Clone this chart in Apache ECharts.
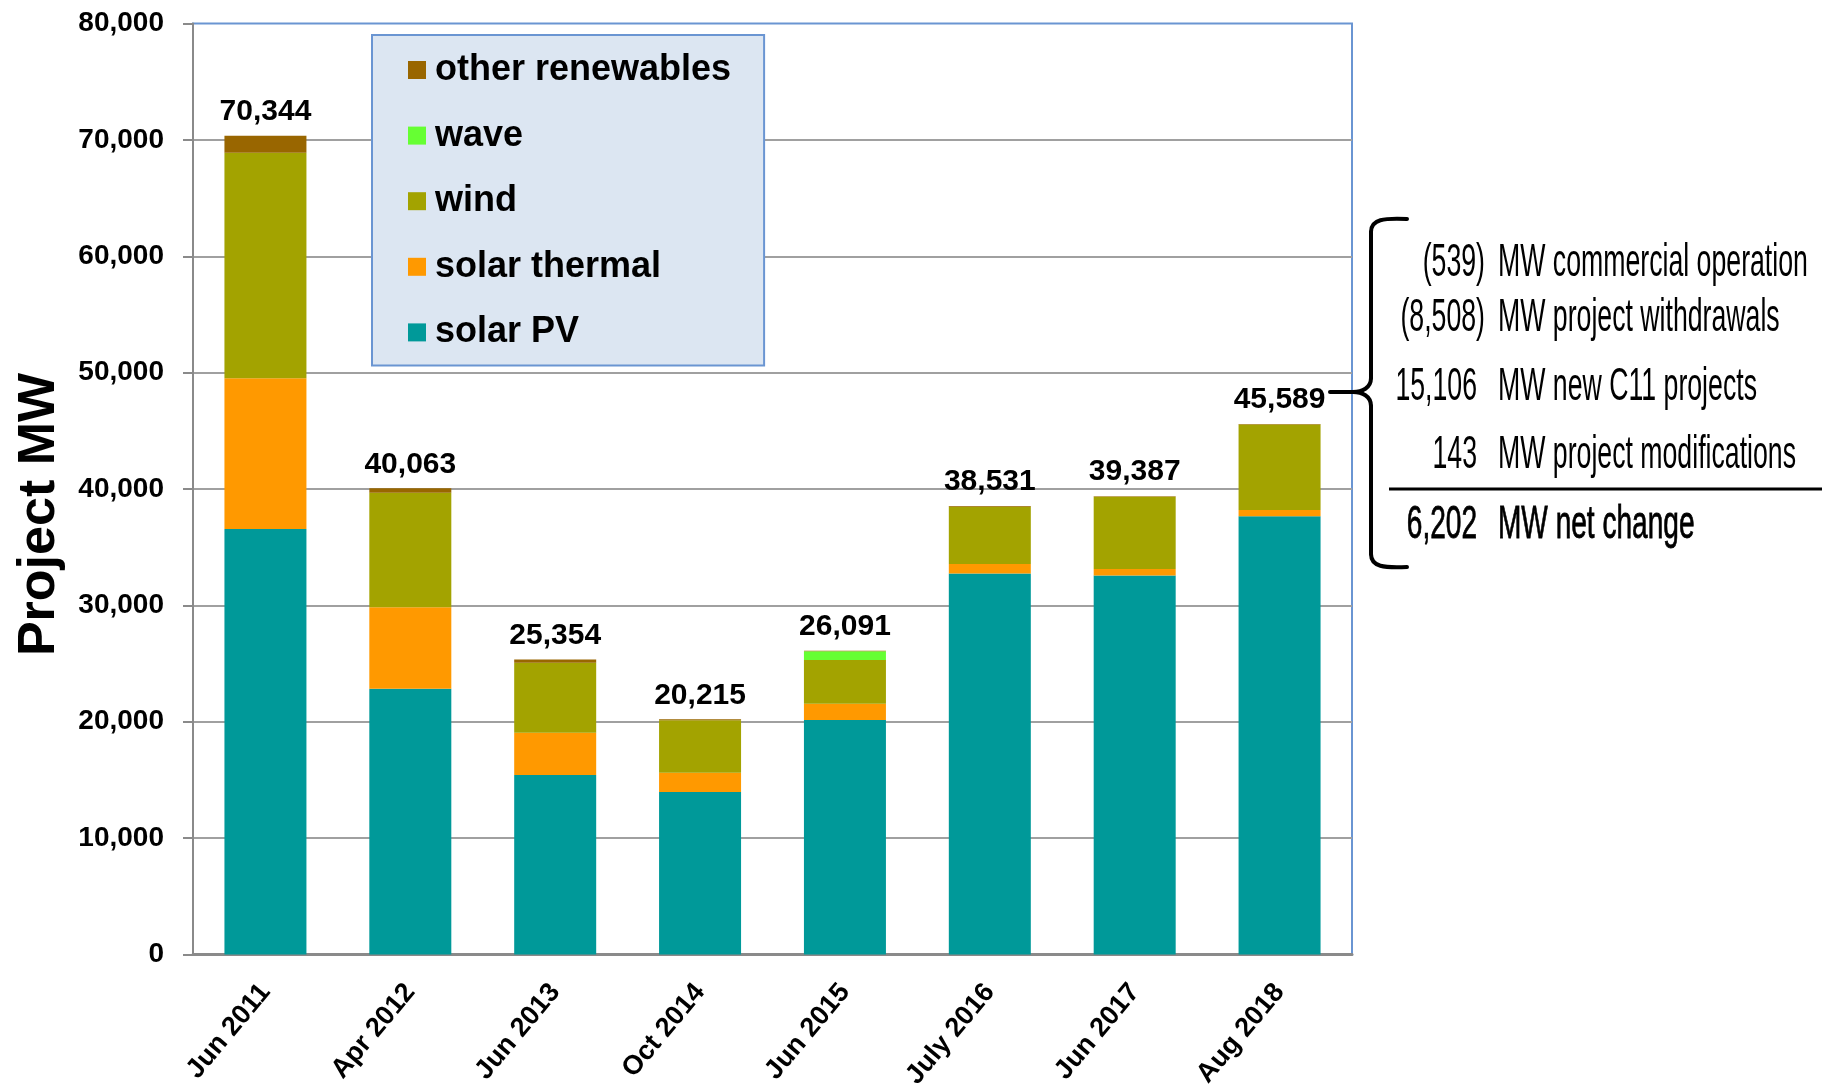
<!DOCTYPE html>
<html><head><meta charset="utf-8">
<script src="https://cdn.jsdelivr.net/npm/echarts@6/dist/echarts.min.js"></script>
<style>html,body{margin:0;padding:0;background:#fff}#c{width:1832px;height:1088px}</style>
</head><body><div id="c"></div>
<script>
// ---------- data ----------
const categories = ['Jun 2011','Apr 2012','Jun 2013','Oct 2014','Jun 2015','July 2016','Jun 2017','Aug 2018'];
const solarPV         = [36564, 22846, 15430, 13960, 20155, 32729, 32560, 37663];
const solarThermal    = [12946,  6990,  3617,  1650,  1382,   819,   564,   524];
const wind            = [19380,  9847,  6013,  4525,  3772,  4923,  6203,  7352];
const wave            = [    0,     0,     0,     0,   740,     0,     0,     0];
const otherRenewables = [ 1454,   380,   294,    80,    42,    60,    60,    50];
const legendOrder = ['other renewables','wave','wind','solar thermal','solar PV'];
const noteNumbers = ['(539)', '(8,508)', '15,106', '143', '6,202'];
const noteTexts = ['MW commercial operation', 'MW project withdrawals', 'MW new C11 projects', 'MW project modifications', 'MW net change'];

const totals = categories.map((_, i) => solarPV[i] + solarThermal[i] + wind[i] + wave[i] + otherRenewables[i]);
const fmt = v => v.toLocaleString('en-US');

// ---------- font detection ----------
function hasFont(name) {
  const c = document.createElement('canvas').getContext('2d');
  const s = 'abcdefghijklmnopqrstuvwxyz0123456789,WM';
  c.font = '40px monospace'; const a = c.measureText(s).width;
  c.font = '40px "' + name + '", monospace'; const b = c.measureText(s).width;
  return Math.abs(a - b) > 0.5;
}
const narrowOK = hasFont('Liberation Sans Narrow');
const SANS = '"Liberation Sans", Arial, sans-serif';
const NARROW = narrowOK ? '"Liberation Sans Narrow", "Liberation Sans", sans-serif' : SANS;
const tickSize = narrowOK ? 32 : 28;
const dataSize = narrowOK ? 34 : 30;
const xSize = narrowOK ? 30 : 27;

const colors = {
  'solar PV': '#009999',
  'solar thermal': '#ff9900',
  'wind': '#a3a300',
  'wave': '#66ff33',
  'other renewables': '#996600'
};

function mk(name, data, extra) {
  return Object.assign({
    name, type: 'bar', stack: 'total', data, barWidth: 82,
    itemStyle: { color: colors[name] },
    emphasis: { disabled: true },
    animation: false
  }, extra || {});
}

// ---------- annotation graphics ----------
const g = [];
const noteX = 1498, numX = [1485, 1485, 1477, 1477, 1477];
const noteY = [263, 318, 387, 455, 525];
const noteScale = [0.58, 0.58, 0.58, 0.58, 0.61];
for (let i = 0; i < noteTexts.length; i++) {
  g.push({ type: 'text', x: numX[i], y: noteY[i], scaleX: noteScale[i], silent: true,
    style: { text: noteNumbers[i], align: 'right', verticalAlign: 'middle', fontSize: 46, fontFamily: SANS, fill: '#000',
      stroke: i === 4 ? '#000' : null, lineWidth: i === 4 ? 0.8 : 0 } });
  g.push({ type: 'text', x: noteX, y: noteY[i], scaleX: noteScale[i], silent: true,
    style: { text: noteTexts[i], align: 'left', verticalAlign: 'middle', fontSize: 46, fontFamily: SANS, fill: '#000',
      stroke: i === 4 ? '#000' : null, lineWidth: i === 4 ? 0.8 : 0 } });
}
const bs = { stroke: '#000', lineWidth: 4, fill: null, lineCap: 'round' };
g.push({ type: 'line', silent: true, shape: { x1: 1389, y1: 489, x2: 1822, y2: 489 }, style: { stroke: '#000', lineWidth: 3 } });
g.push({ type: 'line', silent: true, shape: { x1: 1330, y1: 392, x2: 1356, y2: 392 }, style: bs });
g.push({ type: 'bezierCurve', silent: true, shape: { x1: 1407, y1: 219, cpx1: 1384, cpy1: 218, cpx2: 1371, cpy2: 219, x2: 1371, y2: 232 }, style: bs });
g.push({ type: 'line', silent: true, shape: { x1: 1371, y1: 232, x2: 1371, y2: 378 }, style: bs });
g.push({ type: 'bezierCurve', silent: true, shape: { x1: 1371, y1: 378, cpx1: 1371, cpy1: 388, cpx2: 1362, cpy2: 392, x2: 1353, y2: 392 }, style: bs });
g.push({ type: 'bezierCurve', silent: true, shape: { x1: 1353, y1: 392, cpx1: 1362, cpy1: 392, cpx2: 1371, cpy2: 396, x2: 1371, y2: 406 }, style: bs });
g.push({ type: 'line', silent: true, shape: { x1: 1371, y1: 406, x2: 1371, y2: 554 }, style: bs });
g.push({ type: 'bezierCurve', silent: true, shape: { x1: 1371, y1: 554, cpx1: 1371, cpy1: 567, cpx2: 1384, cpy2: 568, x2: 1407, y2: 567 }, style: bs });

// ---------- chart ----------
const chart = echarts.init(document.getElementById('c'), null, { renderer: 'canvas' });
chart.setOption({
  animation: false,
  backgroundColor: '#ffffff',
  grid: { left: 193, right: 480, top: 23.5, bottom: 133.5, show: true, borderColor: '#6a95d2', borderWidth: 2, backgroundColor: 'transparent', outerBoundsMode: 'none' },
  legend: {
    data: legendOrder, orient: 'vertical', left: 372, top: 35,
    padding: [17, 33, 15, 36],
    backgroundColor: '#dce6f2', borderColor: '#6a95d2', borderWidth: 2,
    itemWidth: 18, itemHeight: 18, itemGap: 29.6, icon: 'rect', selectedMode: false,
    textStyle: { fontFamily: SANS, fontWeight: 'bold', fontSize: 36, color: '#000', padding: [0, 0, 0, 4] }
  },
  xAxis: {
    type: 'category', data: categories,
    axisLine: { show: true, lineStyle: { color: '#8a8a8a', width: 3 } },
    axisTick: { show: false },
    axisLabel: { interval: 0, rotate: 50, margin: 33, fontFamily: NARROW, fontWeight: 'bold', fontSize: xSize, color: '#000' }
  },
  yAxis: {
    type: 'value', min: 0, max: 80000, interval: 10000,
    name: 'Project MW', nameLocation: 'middle', nameGap: 127, nameRotate: 90,
    nameTextStyle: { fontFamily: SANS, fontWeight: 'bold', fontSize: 52, color: '#000', padding: [0, 51, 0, 0] },
    axisLine: { show: true, lineStyle: { color: '#8a8a8a', width: 2 } },
    axisTick: { show: true, length: 10, lineStyle: { color: '#8a8a8a', width: 2 } },
    axisLabel: { margin: 29, fontFamily: NARROW, fontWeight: 'bold', fontSize: tickSize, color: '#000', formatter: v => fmt(v) },
    splitLine: { show: true, showMaxLine: false, lineStyle: { color: '#a0a0a0', width: 2 } }
  },
  series: [
    mk('solar PV', solarPV),
    mk('solar thermal', solarThermal),
    mk('wind', wind),
    mk('wave', wave),
    mk('other renewables', otherRenewables, {
      label: { show: true, position: 'top', distance: 9, fontFamily: NARROW, fontWeight: 'bold', fontSize: dataSize, color: '#000',
        formatter: p => fmt(totals[p.dataIndex]) }
    })
  ],
  graphic: { elements: g }
});
</script></body></html>
